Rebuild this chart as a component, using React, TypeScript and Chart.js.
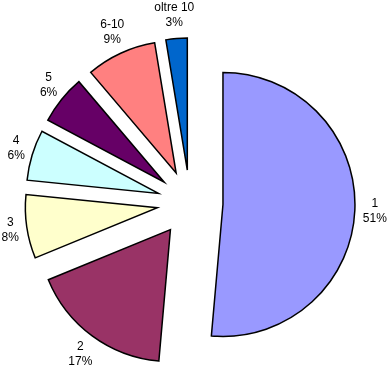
import React, { useEffect, useRef } from "react";
import { Chart, registerables } from "chart.js";

Chart.register(...registerables);

const categories = ["1", "2", "3", "4", "5", "6-10", "oltre 10"];
const values = [51.4, 17.4, 7.8, 6.2, 6.0, 8.6, 2.6];
const colors = ["#9999FF", "#993366", "#FFFFCC", "#CCFFFF", "#660066", "#FF8080", "#0066CC"];

const EXPLODE = 33;
const LABEL_GAP = 8;
const LINE_H = 15;

const explodePlugin = {
  id: "explodeAndLabels",
  beforeDatasetDraw(chart: any, args: any) {
    const ctx = chart.ctx;
    args.meta.data.forEach((arc: any) => {
      const mid = (arc.startAngle + arc.endAngle) / 2;
      ctx.save();
      ctx.translate(Math.cos(mid) * EXPLODE, Math.sin(mid) * EXPLODE);
      arc.draw(ctx);
      ctx.restore();
    });
    return false;
  },
  afterDatasetsDraw(chart: any) {
    const ctx = chart.ctx;
    const meta = chart.getDatasetMeta(0);
    const data = chart.data.datasets[0].data as number[];
    const total = data.reduce((a, b) => a + b, 0);
    ctx.save();
    ctx.font = "12px 'Liberation Sans', Arial, sans-serif";
    ctx.fillStyle = "#000";
    ctx.textAlign = "center";
    ctx.textBaseline = "middle";
    meta.data.forEach((arc: any, i: number) => {
      const mid = (arc.startAngle + arc.endAngle) / 2;
      const c = Math.cos(mid);
      const s = Math.sin(mid);
      const dist = EXPLODE + arc.outerRadius + LABEL_GAP;
      const name = String(chart.data.labels[i]);
      const pct = Math.round((data[i] / total) * 100) + "%";
      const w = Math.max(ctx.measureText(name).width, ctx.measureText(pct).width);
      const x = arc.x + c * dist + c * (w / 2);
      const y = arc.y + s * dist + s * LINE_H;
      ctx.fillText(name, x, y - LINE_H / 2);
      ctx.fillText(pct, x, y + LINE_H / 2);
    });
    ctx.restore();
  },
};

export default function App() {
  const ref = useRef<HTMLCanvasElement | null>(null);
  useEffect(() => {
    if (!ref.current) return;
    const chart = new Chart(ref.current, {
      type: "pie",
      data: {
        labels: categories,
        datasets: [
          {
            data: values,
            backgroundColor: colors,
            borderColor: "#000",
            borderWidth: 1.5,
            borderJoinStyle: "miter",
          } as any,
        ],
      },
      options: {
        animation: false,
        responsive: true,
        maintainAspectRatio: false,
        radius: 132,
        layout: { padding: { left: 0, right: 10, top: 34, bottom: 0 } },
        plugins: {
          legend: { display: false },
          tooltip: { enabled: false },
        },
        events: [],
      } as any,
      plugins: [explodePlugin as any],
    });
    return () => chart.destroy();
  }, []);
  return (
    <div style={{ position: "fixed", left: 0, top: 0, width: 390, height: 372, background: "#fff" }}>
      <canvas ref={ref} />
    </div>
  );
}
